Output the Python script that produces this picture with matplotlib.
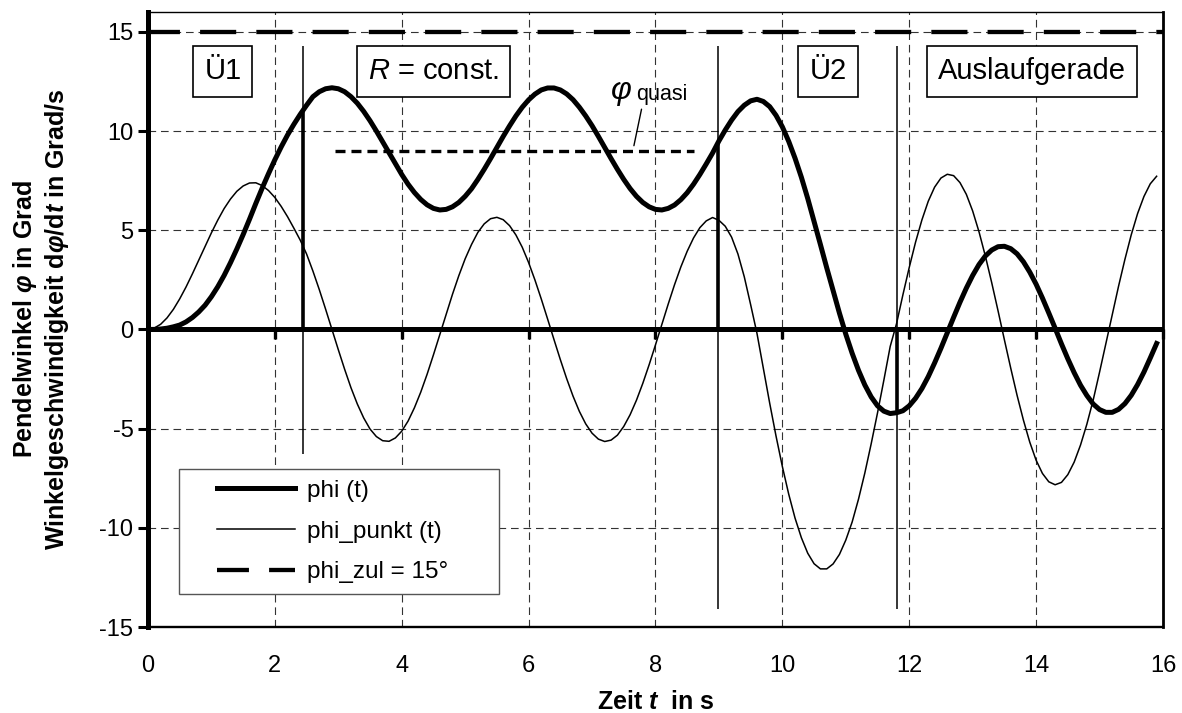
import numpy as np
import matplotlib
matplotlib.use('Agg')
import matplotlib.pyplot as plt
from matplotlib.lines import Line2D
from matplotlib.markers import TICKDOWN
from matplotlib.legend_handler import HandlerLine2D

plt.rcParams['font.family'] = 'Liberation Sans'
plt.rcParams['mathtext.fontset'] = 'custom'
plt.rcParams['mathtext.rm'] = 'Liberation Sans'
plt.rcParams['mathtext.it'] = 'Liberation Sans:italic'
plt.rcParams['mathtext.bf'] = 'Liberation Sans:bold'
plt.rcParams['mathtext.bfit'] = 'Liberation Sans:italic:bold'
plt.rcParams['axes.unicode_minus'] = False
plt.rcParams['lines.scale_dashes'] = False  # Strichlängen in pt

# Zeitachse in s (Schrittweite 0.1 s)
zeit = np.round(np.arange(160) * 0.1, 1)

# Pendelwinkel phi in Grad
phi = np.array([
    0.00, 0.00, 0.02, 0.06, 0.13, 0.22, 0.38, 0.60, 0.88, 1.22,
    1.65, 2.15, 2.72, 3.36, 4.05, 4.78, 5.55, 6.35, 7.12, 7.85,
    8.55, 9.20, 9.80, 10.34, 10.84, 11.30, 11.73, 11.98, 12.13, 12.18,
    12.13, 11.98, 11.73, 11.40, 10.99, 10.52, 10.00, 9.45, 8.89, 8.34,
    7.81, 7.32, 6.90, 6.55, 6.28, 6.10, 6.02, 6.05, 6.18, 6.40,
    6.71, 7.09, 7.56, 8.07, 8.61, 9.17, 9.73, 10.26, 10.76, 11.20,
    11.57, 11.86, 12.07, 12.17, 12.17, 12.07, 11.87, 11.58, 11.20, 10.76,
    10.27, 9.73, 9.17, 8.61, 8.07, 7.56, 7.10, 6.71, 6.40, 6.18,
    6.05, 6.02, 6.10, 6.27, 6.54, 6.89, 7.32, 7.81, 8.34, 8.89,
    9.50, 10.05, 10.55, 10.98, 11.30, 11.52, 11.60, 11.49, 11.23, 10.79,
    10.21, 9.48, 8.63, 7.67, 6.60, 5.45, 4.28, 3.10, 1.95, 0.82,
    -0.24, -1.20, -2.06, -2.80, -3.40, -3.85, -4.12, -4.24, -4.20, -4.10,
    -3.85, -3.47, -2.98, -2.38, -1.69, -0.95, -0.17, 0.61, 1.37, 2.08,
    2.72, 3.27, 3.70, 4.00, 4.17, 4.19, 4.07, 3.81, 3.41, 2.89,
    2.28, 1.58, 0.83, 0.06, -0.73, -1.48, -2.18, -2.81, -3.33, -3.76,
    -4.04, -4.18, -4.18, -4.03, -3.74, -3.32, -2.78, -2.15, -1.44, -0.71,
])

# Winkelgeschwindigkeit dphi/dt in Grad/s
phi_punkt = np.array([
    0.00, 0.07, 0.26, 0.58, 1.01, 1.54, 2.14, 2.80, 3.49, 4.19,
    4.87, 5.51, 6.09, 6.57, 6.96, 7.23, 7.38, 7.39, 7.25, 7.00,
    6.65, 6.20, 5.68, 5.10, 4.50, 3.80, 2.94, 2.01, 1.02, 0.00,
    -1.02, -2.01, -2.94, -3.76, -4.46, -5.02, -5.40, -5.61, -5.64, -5.47,
    -5.13, -4.62, -3.95, -3.16, -2.26, -1.28, -0.26, 0.77, 1.77, 2.71,
    3.56, 4.28, 4.89, 5.32, 5.58, 5.65, 5.53, 5.23, 4.76, 4.14,
    3.37, 2.49, 1.53, 0.52, -0.51, -1.52, -2.48, -3.36, -4.13, -4.76,
    -5.23, -5.53, -5.65, -5.58, -5.33, -4.89, -4.30, -3.57, -2.72, -1.78,
    -0.78, 0.25, 1.27, 2.25, 3.15, 3.94, 4.61, 5.13, 5.47, 5.64,
    5.50, 5.20, 4.65, 3.80, 2.65, 1.25, -0.20, -1.96, -3.71, -5.37,
    -6.91, -8.30, -9.51, -10.50, -11.28, -11.81, -12.07, -12.07, -11.82, -11.34,
    -10.62, -9.71, -8.56, -7.24, -5.77, -4.21, -2.56, -0.86, 0.29, 1.74,
    3.12, 4.40, 5.52, 6.46, 7.17, 7.63, 7.82, 7.75, 7.40, 6.81,
    5.97, 4.92, 3.70, 2.36, 0.94, -0.52, -1.95, -3.32, -4.57, -5.68,
    -6.59, -7.26, -7.68, -7.83, -7.71, -7.32, -6.69, -5.83, -4.78, -3.56,
    -2.16, -0.71, 0.74, 2.18, 3.53, 4.77, 5.84, 6.70, 7.34, 7.72,
])

phi_zul = 15.0          # zulaessiger Pendelwinkel
phi_quasi = 9.0         # quasistatischer Winkel bei R = const.
quasi_von, quasi_bis = 2.95, 8.6

# Abschnittswechsel
t_wechsel = [2.45, 8.99, 11.81]
wechsel_unten = [-6.3, -14.1, -14.1]
wechsel_oben = 14.3

abschnitte = ['Ü1', '$R$ = const.', 'Ü2', 'Auslaufgerade']
abschnitt_x = [1.18, 4.50, 10.72, 13.93]
abschnitt_y = 13.0

x_ticks = np.arange(0, 17, 2)
y_ticks = np.arange(-15, 16, 5)
y_min, y_max = -15, 16


class LinieVersetzt(HandlerLine2D):
    # Legendenlinie etwas nach rechts einruecken
    def create_artists(self, legend, orig_handle, xdescent, ydescent,
                       width, height, fontsize, trans):
        rand = 1.12 * fontsize
        return super().create_artists(legend, orig_handle, xdescent - rand, ydescent,
                                      width - rand, height, fontsize, trans)


fig = plt.figure(figsize=(11.82, 7.13), dpi=100)
ax = fig.add_axes([0.1252, 0.1206, 0.8587, 0.8626])

ax.plot(zeit, phi, color='k', lw=3.6, label='phi (t)')
ax.plot(zeit, phi_punkt, color='k', lw=1.1, label='phi_punkt (t)')
ax.axhline(phi_zul, color='k', lw=3.1, ls=(3, (26, 14.5)), label='phi_zul = 15°')

ax.hlines(phi_quasi, quasi_von, quasi_bis, colors='k', lw=2.4, linestyles=[(0, (7.2, 4.3))])

ax.vlines(t_wechsel, wechsel_unten, wechsel_oben, colors='k', lw=1.1)
ax.vlines(t_wechsel, 0, np.interp(t_wechsel, zeit, phi), colors='k', lw=2.6)

# Nulllinie mit Teilstrichen nach unten
ax.axhline(0, color='k', lw=3.6, zorder=3)
ax.plot(x_ticks, np.zeros(len(x_ticks)), ls='none', marker=TICKDOWN, ms=7,
        mew=2.4, color='k', clip_on=False, zorder=3)

for txt, xp in zip(abschnitte, abschnitt_x):
    ax.text(xp, abschnitt_y, txt, fontsize=21, ha='center', va='center', zorder=5,
            bbox=dict(boxstyle='square,pad=0.38', fc='white', ec='black', lw=1.2))

ax.text(7.456, 11.94, r'$\varphi$', fontsize=23, ha='center', va='center')
ax.text(7.70, 11.57, 'quasi', fontsize=15.5, ha='left', va='baseline')
ax.annotate('', xy=(7.66, 9.26), xytext=(7.78, 11.1),
            arrowprops=dict(arrowstyle='-', color='k', lw=1, shrinkA=0, shrinkB=0))

ax.set_xlim(0, 16)
ax.set_ylim(y_min, y_max)
ax.set_xticks(x_ticks)
ax.set_yticks(y_ticks)
ax.tick_params(axis='x', length=0, pad=20.5, labelsize=17)
ax.tick_params(axis='y', direction='out', length=7, width=2.2, pad=3.5, labelsize=17)

ax.set_axisbelow(True)
ax.grid(True, color='#333333', lw=0.8, linestyle=(0, (5.5, 3.5)))

ax.spines['left'].set_linewidth(3.6)
ax.spines['bottom'].set_linewidth(1.7)
ax.spines['right'].set_linewidth(2.0)
ax.spines['top'].set_linewidth(1.0)

ax.set_xlabel('Zeit $\\mathbfit{t}$  in s', fontsize=18, fontweight='bold')
ax.xaxis.set_label_coords(0.5, -0.103)
ax.xaxis.label.set_va('top')
ax.set_ylabel('Pendelwinkel $\\mathbfit{\\varphi}$ in Grad\n'
              'Winkelgeschwindigkeit d$\\mathbfit{\\varphi}$/d$\\mathbfit{t}$ in Grad/s',
              fontsize=18, fontweight='bold')
ax.yaxis.set_label_coords(-0.076, 0.5)

leg = ax.legend(handler_map={Line2D: LinieVersetzt()}, loc='upper left',
                bbox_to_anchor=(0.0305, 0.2569, 0.3153, 0), mode='expand',
                borderaxespad=0, borderpad=0.45, handlelength=4.32, handletextpad=0.5,
                labelspacing=0.77, fontsize=17.5, fancybox=False, framealpha=1,
                edgecolor='#555555')
leg.get_frame().set_linewidth(1.0)

fig.savefig('out.png', dpi=100)
